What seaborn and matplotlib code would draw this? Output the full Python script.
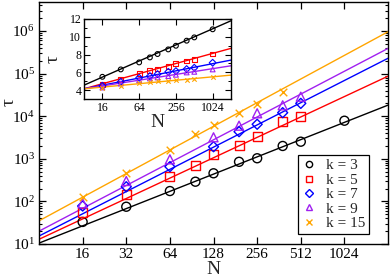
import numpy as np
import pandas as pd
import seaborn as sns
import matplotlib
matplotlib.use("Agg")
import matplotlib.pyplot as plt
from matplotlib.lines import Line2D
from matplotlib.ticker import FixedLocator, LogLocator, NullLocator, MultipleLocator, NullFormatter, FixedFormatter

sns.set_theme(style="ticks")
plt.rcParams['font.family'] = ['Liberation Serif', 'DejaVu Serif']
plt.rcParams['mathtext.fontset'] = 'stix'

# ---------------- data ----------------
k_values = [3, 5, 7, 9, 15]
legend_labels = ['k = 3', 'k = 5', 'k = 7', 'k = 9', 'k = 15']
colors = ['#000000', '#ff0000', '#0000ff', '#a020f0', '#ffa500']
markers = ['o', 's', 'D', '^', 'x']

# main panel: tau vs N (log-log)
N_k3 = [16, 32, 64, 96, 128, 192, 256, 384, 512, 1024]
tau_k3 = [33, 75, 175, 290, 457, 850, 1030, 2000, 2520, 7830]
N_k5 = [16, 32, 64, 96, 128, 192, 256, 384, 512]
tau_k5 = [54, 149, 394, 678, 1230, 2000, 3300, 7430, 10100]
N_k7 = [16, 32, 64, 128, 192, 256, 384, 512]
tau_k7 = [78, 221, 653, 1920, 4330, 6460, 12100, 20000]
N_k9 = [16, 32, 64, 128, 192, 256, 384, 512]
tau_k9 = [90, 301, 973, 3200, 5990, 11700, 18000, 28700]
N_k15 = [16, 32, 64, 96, 128, 192, 256, 384]
tau_k15 = [129, 457, 1610, 3800, 6200, 11700, 19300, 36000]

# main panel fit lines (end points)
fit_N = [8, 2048]
fit_k3 = [10.5, 18200]
fit_k5 = [12.9, 87000]
fit_k7 = [15.4, 229000]
fit_k9 = [20.0, 390000]
fit_k15 = [35.0, 960000]

# inset: tau vs N (lin-log)
N_inset = [16, 32, 64, 96, 128, 192, 256, 384, 512, 1024]
ins_k3 = [5.50, 6.33, 7.12, 7.68, 8.06, 8.58, 8.99, 9.56, 9.93, 10.84]
ins_k5 = [4.68, 5.24, 5.88, 6.25, 6.37, 6.70, 7.00, 7.27, 7.46, 8.06]
ins_k7 = [4.49, 4.94, 5.39, 5.58, 5.80, 6.06, 6.14, 6.37, 6.52, 7.08]
ins_k9 = [4.30, 4.75, 5.13, 5.32, 5.43, 5.58, 5.73, 5.99, 6.06, 6.33]
ins_k15 = [4.23, 4.49, 4.75, 4.94, 5.01, 5.05, 5.09, 5.13, 5.21, 5.43]
ins_fit_k3 = [4.56, 11.8]
ins_fit_k5 = [4.15, 8.7]
ins_fit_k7 = [4.15, 7.38]
ins_fit_k9 = [4.15, 6.74]
ins_fit_k15 = [4.15, 5.69]

x_ticks = [16, 32, 64, 128, 256, 512, 1024]
x_ticks_inset = [16, 64, 256, 1024]
y_ticks_inset = [4, 6, 8, 10, 12]

main_N = [N_k3, N_k5, N_k7, N_k9, N_k15]
main_tau = [tau_k3, tau_k5, tau_k7, tau_k9, tau_k15]
main_fit = [fit_k3, fit_k5, fit_k7, fit_k9, fit_k15]
ins_tau = [ins_k3, ins_k5, ins_k7, ins_k9, ins_k15]
ins_fit = [ins_fit_k3, ins_fit_k5, ins_fit_k7, ins_fit_k9, ins_fit_k15]

# ---------------- figure ----------------
fig = plt.figure(figsize=(3.9, 2.79), dpi=100)
ax = fig.add_axes([0.100, 0.1254, 0.895, 0.8676])

def style_axes(a, lw=1.0):
    for s in a.spines.values():
        s.set_linewidth(lw)
        s.set_color('black')
    a.tick_params(which='both', direction='in', top=True, right=True, colors='black')

for i, k in enumerate(k_values):
    dfl = pd.DataFrame({'N': fit_N, 'tau': main_fit[i]})
    sns.lineplot(data=dfl, x='N', y='tau', ax=ax, color=colors[i], lw=1.0, legend=False)
    dfp = pd.DataFrame({'N': main_N[i], 'tau': main_tau[i]})
    if markers[i] == 'x':
        sns.scatterplot(data=dfp, x='N', y='tau', ax=ax, marker='x', color=colors[i],
                        s=30, linewidth=1.0, legend=False, zorder=5)
    else:
        msz = 42 if markers[i] != 'D' else 26
        sns.scatterplot(data=dfp, x='N', y='tau', ax=ax, marker=markers[i],
                        facecolor='none', edgecolor=colors[i], s=msz, linewidth=1.0,
                        legend=False, zorder=5)

ax.set_xscale('log', base=2)
ax.set_yscale('log')
ax.set_xlim(8, 2048)
ax.set_ylim(10, 4.8e6)
ax.xaxis.set_major_locator(FixedLocator(x_ticks))
ax.xaxis.set_major_formatter(FixedFormatter([str(t) for t in x_ticks]))
ax.xaxis.set_minor_locator(NullLocator())
ax.yaxis.set_major_locator(LogLocator(base=10, numticks=10))
ax.yaxis.set_minor_locator(LogLocator(base=10, subs=np.arange(2, 10), numticks=10))
ax.yaxis.set_minor_formatter(NullFormatter())
style_axes(ax)
ax.tick_params(which='major', length=5, width=0.9, labelsize=11, pad=3)
ax.tick_params(which='minor', length=2.5, width=0.8)
ax.set_xlabel('N', fontsize=14, labelpad=0)
ax.set_ylabel('τ', fontsize=14)
ax.yaxis.set_label_coords(-0.062, 0.585)

handles = []
for i in range(len(k_values)):
    if markers[i] == 'x':
        h = Line2D([], [], ls='none', marker='x', color=colors[i], ms=4.5, mew=1.0)
    else:
        h = Line2D([], [], ls='none', marker=markers[i], mfc='none', mec=colors[i],
                   ms=4.5 if markers[i] != 'D' else 3.8, mew=1.0)
    handles.append(h)
leg = ax.legend(handles, legend_labels, loc='lower right', bbox_to_anchor=(0.946, 0.041),
                borderaxespad=0, fontsize=11, frameon=True, fancybox=False,
                edgecolor='black', framealpha=1, labelspacing=0.05, handlelength=1.0,
                handletextpad=0.6, borderpad=0.25)
leg.get_frame().set_linewidth(0.9)

# ---------------- inset ----------------
axi = fig.add_axes([0.2154, 0.645, 0.377, 0.287])
axi.set_facecolor('white')
for i, k in enumerate(k_values):
    dfl = pd.DataFrame({'N': fit_N, 'tau': ins_fit[i]})
    sns.lineplot(data=dfl, x='N', y='tau', ax=axi, color=colors[i], lw=1.0, legend=False)
    dfp = pd.DataFrame({'N': N_inset, 'tau': ins_tau[i]})
    if markers[i] == 'x':
        sns.scatterplot(data=dfp, x='N', y='tau', ax=axi, marker='x', color=colors[i],
                        s=10, linewidth=0.8, legend=False, zorder=5)
    else:
        sns.scatterplot(data=dfp, x='N', y='tau', ax=axi, marker=markers[i],
                        facecolor='none', edgecolor=colors[i], s=12, linewidth=0.8,
                        legend=False, zorder=5)
axi.set_xscale('log', base=2)
axi.set_xlim(8, 2048)
axi.set_ylim(3, 12)
axi.xaxis.set_major_locator(FixedLocator(x_ticks_inset))
axi.xaxis.set_major_formatter(FixedFormatter([str(t) for t in x_ticks_inset]))
axi.xaxis.set_minor_locator(NullLocator())
axi.yaxis.set_major_locator(FixedLocator(y_ticks_inset))
axi.yaxis.set_minor_locator(MultipleLocator(1))
style_axes(axi)
axi.tick_params(which='major', length=4, width=0.8, labelsize=8.5, pad=2)
axi.tick_params(which='minor', length=2, width=0.7)
axi.set_xlabel('N', fontsize=14, labelpad=0)
axi.set_ylabel('τ', fontsize=14)
axi.yaxis.set_label_coords(-0.15, 0.5)

fig.savefig('out.png', dpi=100)
